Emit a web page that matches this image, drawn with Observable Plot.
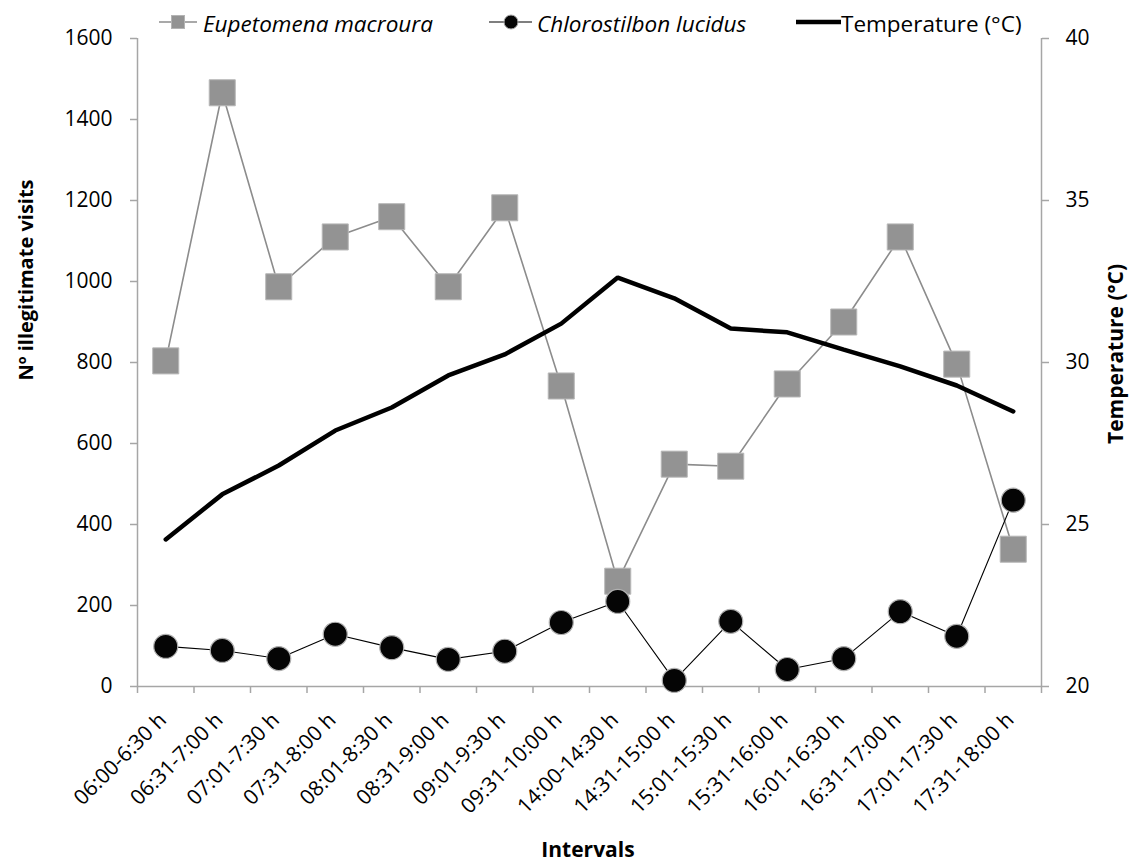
<!DOCTYPE html>
<html>
<head>
<meta charset="utf-8">
<script src="https://cdn.jsdelivr.net/npm/d3@7"></script>
<script src="https://cdn.jsdelivr.net/npm/@observablehq/plot@0.6"></script>
<style>
  html, body { margin: 0; padding: 0; background: #fff; }
  #wrap { position: relative; width: 1131px; height: 862px; font-family: "Open Sans", sans-serif; }
  #legend { position: absolute; top: 0; left: 0; }
</style>
</head>
<body>
<div id="wrap">
  <div id="chart"></div>
  <svg id="legend" width="1131" height="44" font-family="'Open Sans', sans-serif" font-size="22.5">
    <line x1="159" y1="22" x2="197" y2="22" stroke="#8c8c8c" stroke-width="1.6"/>
    <rect x="171.5" y="15.5" width="13" height="13" fill="#939393" stroke="#b4b4b4"/>
    <text x="203" y="32" font-style="italic">Eupetomena macroura</text>
    <line x1="489" y1="22" x2="532" y2="22" stroke="#000" stroke-width="1.1"/>
    <circle cx="511" cy="22" r="7" fill="#050505" stroke="#aaa"/>
    <text x="537" y="32" font-style="italic">Chlorostilbon lucidus</text>
    <line x1="796" y1="22" x2="841" y2="22" stroke="#000" stroke-width="4.5"/>
    <text x="841" y="32">Temperature (°C)</text>
  </svg>
</div>
<script>
const categories = ["06:00-6:30 h","06:31-7:00 h","07:01-7:30 h","07:31-8:00 h","08:01-8:30 h","08:31-9:00 h","09:01-9:30 h","09:31-10:00 h","14:00-14:30 h","14:31-15:00 h","15:01-15:30 h","15:31-16:00 h","16:01-16:30 h","16:31-17:00 h","17:01-17:30 h","17:31-18:00 h"];
const eupetomena = [804, 1466, 987, 1110, 1160, 987, 1182, 742, 260, 549, 544, 747, 900, 1110, 796, 339];
const chlorostilbon = [99, 89, 69, 129, 96, 67, 87, 158, 210, 15, 161, 42, 69, 185, 124, 460];
const temperature = [24.54, 25.93, 26.82, 27.9, 28.61, 29.6, 30.25, 31.2, 32.62, 31.98, 31.05, 30.93, 30.4, 29.88, 29.29, 28.49];
const leftTicks = [0, 200, 400, 600, 800, 1000, 1200, 1400, 1600];
const rightTicks = [20, 25, 30, 35, 40];

const leftMax = 1600, rightMin = 20, rightMax = 40;
const toLeft = t => (t - rightMin) / (rightMax - rightMin) * leftMax;

const rows = categories.map((c, i) => ({pos: i + 0.5, c, e: eupetomena[i], ch: chlorostilbon[i], t: temperature[i]}));
const boundaries = d3.range(categories.length + 1);
const axisColor = "#a6a6a6";

const chart = Plot.plot({
  width: 1131,
  height: 862,
  marginLeft: 137,
  marginRight: 90,
  marginTop: 38,
  marginBottom: 176,
  style: {fontFamily: "'Open Sans', sans-serif", fontSize: "21px", color: "#000", background: "#fff"},
  x: {domain: [0, categories.length]},
  y: {domain: [0, leftMax]},
  marks: [
    Plot.ruleX([0], {stroke: axisColor, strokeWidth: 1.5}),
    Plot.ruleX([categories.length], {stroke: axisColor, strokeWidth: 1.5}),
    Plot.ruleY([0], {stroke: axisColor, strokeWidth: 1.5}),
    Plot.axisY({anchor: "left", ticks: leftTicks, tickSize: 7, tickPadding: 18, stroke: axisColor, strokeWidth: 1.5, label: null, tickFormat: d => String(d)}),
    Plot.axisY({anchor: "right", ticks: rightTicks.map(toLeft), tickSize: 7, tickPadding: 17, stroke: axisColor, strokeWidth: 1.5, label: null, tickFormat: v => String(Math.round(rightMin + v / leftMax * (rightMax - rightMin)))}),
    Plot.axisX({anchor: "bottom", ticks: boundaries, tickSize: 7, stroke: axisColor, strokeWidth: 1.5, tickFormat: () => "", label: null}),
    Plot.axisX({anchor: "bottom", ticks: rows.map(d => d.pos), tickSize: 0, tickPadding: 30, tickRotate: -45, tickFormat: v => categories[Math.floor(v)], label: null, dx: -3}),
    Plot.line(rows, {x: "pos", y: "e", stroke: "#8c8c8c", strokeWidth: 1.6}),
    Plot.dot(rows, {x: "pos", y: "e", symbol: "square", r: 14.7, fill: "#939393", stroke: "#b8b8b8", strokeWidth: 1}),
    Plot.line(rows, {x: "pos", y: "ch", stroke: "#000", strokeWidth: 1.1}),
    Plot.dot(rows, {x: "pos", y: "ch", r: 12, fill: "#050505", stroke: "#b0b0b0", strokeWidth: 1.2}),
    Plot.line(rows, {x: "pos", y: d => toLeft(d.t), stroke: "#000", strokeWidth: 4.5, strokeLinejoin: "miter"})
  ]
});

// Axis titles as real text in the SVG
const svg = d3.select(chart);
svg.append("text").text("Nº illegitimate visits")
  .attr("transform", "translate(28,280) rotate(-90)")
  .attr("text-anchor", "middle").attr("font-weight", "bold").attr("font-size", 20).attr("dominant-baseline", "middle");
svg.append("text").text("Temperature (°C)")
  .attr("transform", "translate(1117,354) rotate(-90)")
  .attr("text-anchor", "middle").attr("font-weight", "bold").attr("font-size", 21).attr("dominant-baseline", "middle");
svg.append("text").text("Intervals")
  .attr("x", 588).attr("y", 857)
  .attr("text-anchor", "middle").attr("font-weight", "bold").attr("font-size", 21);

document.getElementById("chart").appendChild(chart);
</script>
</body>
</html>
